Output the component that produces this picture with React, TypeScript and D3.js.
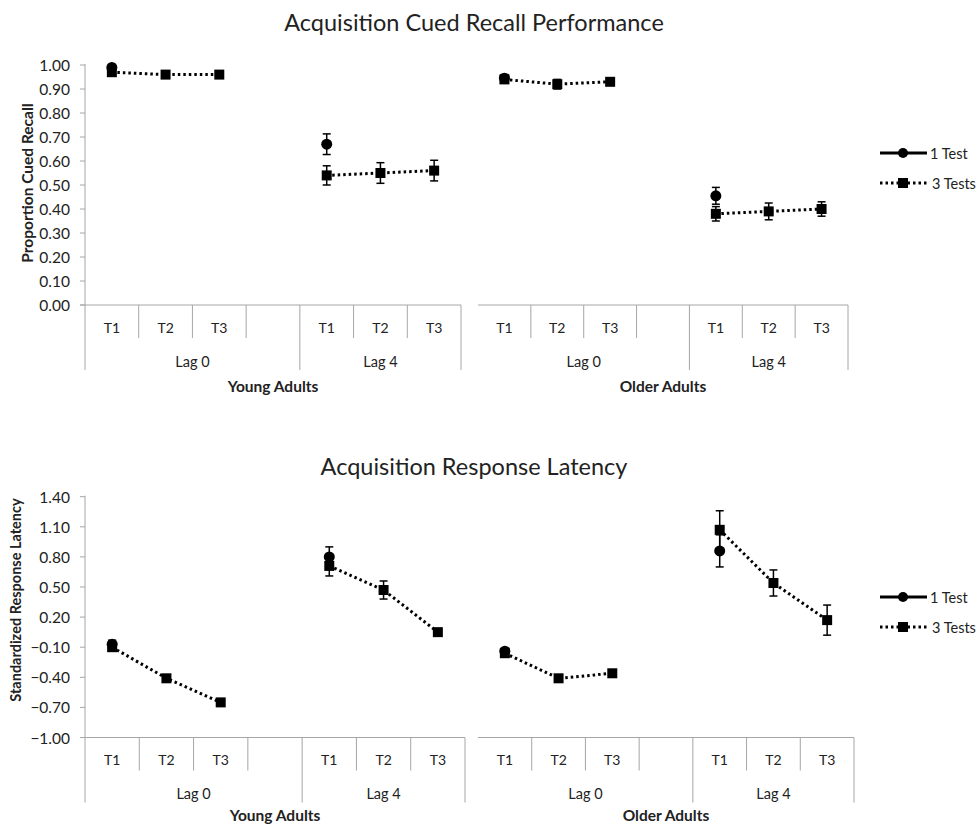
import React from "react";
import * as d3 from "d3";

// ---------- data ----------
const slots = ["T1", "T2", "T3", "", "T1", "T2", "T3"];
const lagLabels = ["Lag 0", "Lag 4"];
const groupLabels = ["Young Adults", "Older Adults"];
const seriesNames = ["1 Test", "3 Tests"];

// Proportion cued recall
const recallYoung3 = [0.97, 0.96, 0.96, null, 0.54, 0.55, 0.56];
const recallYoung3Err = [0.01, 0.01, 0.01, null, 0.04, 0.043, 0.043];
const recallYoung1 = [0.99, null, null, null, 0.67, null, null];
const recallYoung1Err = [0.01, null, null, null, 0.043, null, null];
const recallOlder3 = [0.94, 0.92, 0.93, null, 0.38, 0.39, 0.40];
const recallOlder3Err = [0.015, 0.02, 0.01, null, 0.03, 0.035, 0.03];
const recallOlder1 = [0.945, null, null, null, 0.455, null, null];
const recallOlder1Err = [0.015, null, null, null, 0.035, null, null];
const recallTicks = [0, 0.1, 0.2, 0.3, 0.4, 0.5, 0.6, 0.7, 0.8, 0.9, 1.0];

// Standardized response latency
const latYoung3 = [-0.10, -0.41, -0.65, null, 0.71, 0.47, 0.05];
const latYoung3Err = [0.03, 0.02, 0.03, null, 0.10, 0.09, 0.03];
const latYoung1 = [-0.07, null, null, null, 0.80, null, null];
const latYoung1Err = [0.04, null, null, null, 0.10, null, null];
const latOlder3 = [-0.16, -0.41, -0.36, null, 1.07, 0.54, 0.17];
const latOlder3Err = [0.03, 0.02, 0.02, null, 0.19, 0.13, 0.15];
const latOlder1 = [-0.14, null, null, null, 0.86, null, null];
const latOlder1Err = [0.03, null, null, null, 0.16, null, null];
const latTicks = [-1.0, -0.7, -0.4, -0.1, 0.2, 0.5, 0.8, 1.1, 1.4];

const FONT = "Lato, 'Open Sans', sans-serif";
const AXIS = "#a6a6a6";
const TXT = "#222";

type Grp = {
  x0: number;
  x1: number;
  s3: (number | null)[];
  e3: (number | null)[];
  s1: (number | null)[];
  e1: (number | null)[];
  label: string;
  leftTick: boolean;
};

function Group({ g, y, axisY, groupOff }: { g: Grp; y: d3.ScaleLinear<number, number>; axisY: number; groupOff: number }) {
  const x = d3.scaleBand<number>().domain(d3.range(slots.length)).range([g.x0, g.x1]).padding(0);
  const bw = x.bandwidth();
  const cx = (i: number) => (x(i) as number) + bw / 2;
  const bounds = d3.range(slots.length + 1).map((i) => g.x0 + i * bw);
  const longIdx = [0, 4, 7];
  const segments: [number, number][][] = [];
  let cur: [number, number][] = [];
  g.s3.forEach((v, i) => {
    if (v == null) {
      if (cur.length) segments.push(cur);
      cur = [];
    } else cur.push([cx(i), y(v)]);
  });
  if (cur.length) segments.push(cur);
  const line = d3.line();
  const errBar = (i: number, v: number | null, e: number | null, key: string) =>
    v == null || e == null ? null : (
      <g key={key} stroke="#000" strokeWidth={1.5}>
        <line x1={cx(i)} x2={cx(i)} y1={y(v - e)} y2={y(v + e)} />
        <line x1={cx(i) - 4} x2={cx(i) + 4} y1={y(v - e)} y2={y(v - e)} />
        <line x1={cx(i) - 4} x2={cx(i) + 4} y1={y(v + e)} y2={y(v + e)} />
      </g>
    );
  return (
    <g>
      <line x1={g.x0} x2={g.x1} y1={axisY} y2={axisY} stroke={AXIS} strokeWidth={1} />
      {bounds.map((bx, i) => {
        if (i === 0 && !g.leftTick) return null;
        const isLong = longIdx.includes(i);
        return (
          <line key={i} x1={bx} x2={bx} y1={axisY} y2={axisY + (isLong ? 65 : 33)} stroke={AXIS} strokeWidth={1} />
        );
      })}
      {slots.map((s, i) => (
        <text key={i} x={cx(i)} y={axisY + 22} textAnchor="middle" dominantBaseline="central" fontSize={14} fill={TXT}>
          {s}
        </text>
      ))}
      <text x={(bounds[0] + bounds[4]) / 2} y={axisY + 56} textAnchor="middle" dominantBaseline="central" fontSize={14.5} fill={TXT}>
        {lagLabels[0]}
      </text>
      <text x={(bounds[4] + bounds[7]) / 2} y={axisY + 56} textAnchor="middle" dominantBaseline="central" fontSize={14.5} fill={TXT}>
        {lagLabels[1]}
      </text>
      <text x={(g.x0 + g.x1) / 2} y={axisY + groupOff} textAnchor="middle" dominantBaseline="central" fontSize={15.5} fontWeight="bold" fill={TXT}>
        {g.label}
      </text>
      {segments.map((seg, k) => (
        <path key={k} d={line(seg) as string} fill="none" stroke="#000" strokeWidth={3} strokeDasharray="2.5,3" />
      ))}
      {g.s1.map((v, i) => errBar(i, v, g.e1[i], "e1" + i))}
      {g.s3.map((v, i) => errBar(i, v, g.e3[i], "e3" + i))}
      {g.s1.map((v, i) => (v == null ? null : <circle key={"c" + i} cx={cx(i)} cy={y(v)} r={5.5} fill="#000" />))}
      {g.s3.map((v, i) =>
        v == null ? null : <rect key={"r" + i} x={cx(i) - 5} y={y(v) - 5} width={10} height={10} fill="#000" />
      )}
    </g>
  );
}

function Legend({ y1, y2 }: { y1: number; y2: number }) {
  return (
    <g fontSize={14.5} fill={TXT}>
      <line x1={880} x2={927} y1={y1} y2={y1} stroke="#000" strokeWidth={3} />
      <circle cx={903} cy={y1} r={5} fill="#000" />
      <text x={930} y={y1} dominantBaseline="central">{seriesNames[0]}</text>
      <line x1={880} x2={927} y1={y2} y2={y2} stroke="#000" strokeWidth={3} strokeDasharray="2.5,3" />
      <rect x={898} y={y2 - 5} width={10} height={10} fill="#000" />
      <text x={932} y={y2} dominantBaseline="central">{seriesNames[1]}</text>
    </g>
  );
}

function Panel({
  title, titleY, yLabel, yLabelX, yLabelY, yLabelSize, y, ticks, axisY, groupOff, groups, legY,
}: {
  title: string; titleY: number; yLabel: string; yLabelX: number; yLabelY: number; yLabelSize: number;
  y: d3.ScaleLinear<number, number>; ticks: number[]; axisY: number; groupOff: number; groups: Grp[]; legY: [number, number];
}) {
  const [top] = y.range().slice().sort((a, b) => a - b);
  return (
    <g>
      <text x={474} y={titleY} textAnchor="middle" dominantBaseline="central" fontSize={23.5} fill={TXT}>
        {title}
      </text>
      <text
        transform={`translate(${yLabelX},${yLabelY}) rotate(-90)`}
        textAnchor="middle"
        dominantBaseline="central"
        fontSize={yLabelSize}
        fontWeight="bold"
        fill={TXT}
      >
        {yLabel}
      </text>
      <line x1={85} x2={85} y1={top - 1} y2={axisY} stroke={AXIS} strokeWidth={1} />
      {ticks.map((t) => (
        <g key={t}>
          <line x1={80} x2={85} y1={y(t)} y2={y(t)} stroke={AXIS} strokeWidth={1} />
          <text x={70} y={y(t)} textAnchor="end" dominantBaseline="central" fontSize={15.5} fill={TXT}>
            {d3.format(".2f")(t)}
          </text>
        </g>
      ))}
      <line x1={80} x2={85} y1={axisY} y2={axisY} stroke={AXIS} strokeWidth={1} />
      {groups.map((g, i) => (
        <Group key={i} g={g} y={y} axisY={axisY} groupOff={groupOff} />
      ))}
      <Legend y1={legY[0]} y2={legY[1]} />
    </g>
  );
}

export default function App() {
  const yTop = d3.scaleLinear().domain([0, 1]).range([305, 65]);
  const yBot = d3.scaleLinear().domain([-1, 1.4]).range([737.5, 496.7]);
  const topGroups: Grp[] = [
    { x0: 85, x1: 461, s3: recallYoung3, e3: recallYoung3Err, s1: recallYoung1, e1: recallYoung1Err, label: groupLabels[0], leftTick: true },
    { x0: 478, x1: 848, s3: recallOlder3, e3: recallOlder3Err, s1: recallOlder1, e1: recallOlder1Err, label: groupLabels[1], leftTick: false },
  ];
  const botGroups: Grp[] = [
    { x0: 85, x1: 465, s3: latYoung3, e3: latYoung3Err, s1: latYoung1, e1: latYoung1Err, label: groupLabels[0], leftTick: true },
    { x0: 478, x1: 854, s3: latOlder3, e3: latOlder3Err, s1: latOlder1, e1: latOlder1Err, label: groupLabels[1], leftTick: false },
  ];
  return (
    <div style={{ position: "absolute", left: 0, top: 0 }}>
      <svg width={978} height={826} style={{ display: "block", background: "#fff" }} fontFamily={FONT}>
        <Panel
          title="Acquisition Cued Recall Performance"
          titleY={22}
          yLabel="Proportion Cued Recall"
          yLabelX={27}
          yLabelY={183}
          yLabelSize={15.5}
          y={yTop}
          ticks={recallTicks}
          axisY={305}
          groupOff={81}
          groups={topGroups}
          legY={[153, 183]}
        />
        <Panel
          title="Acquisition Response Latency"
          titleY={466}
          yLabel="Standardized Response Latency"
          yLabelX={15}
          yLabelY={600}
          yLabelSize={14.5}
          y={yBot}
          ticks={latTicks}
          axisY={737.5}
          groupOff={77}
          groups={botGroups}
          legY={[597, 627]}
        />
      </svg>
    </div>
  );
}
